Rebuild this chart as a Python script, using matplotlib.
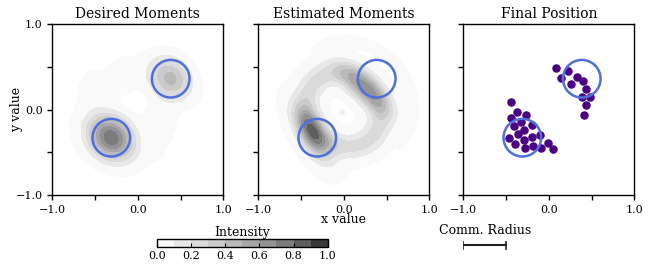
import numpy as np
import matplotlib
matplotlib.use("Agg")
import matplotlib.pyplot as plt
from matplotlib.patches import Circle
from matplotlib.colors import ListedColormap

plt.rcParams['font.family'] = ['DejaVu Serif']

# desired target locations and communication radius
target_x = [-0.31, 0.385]
target_y = [-0.33, 0.36]
target_r = 0.22
comm_radius = 0.5

# desired density: gaussian blobs (x, y, sx, sy, angle deg, weight)
desired_x = [-0.31, 0.385, 0.27, -0.05, -0.50]
desired_y = [-0.33, 0.36, -0.10, 0.42, 0.05]
desired_sx = [0.19, 0.17, 0.08, 0.30, 0.10]
desired_sy = [0.155, 0.135, 0.22, 0.10, 0.25]
desired_ang = [-40, -50, 0, 10, 0]
desired_w = [0.80, 0.46, 0.07, 0.05, 0.04]

# estimated density: lobes on top of a ring
est_x = [-0.37, 0.25]
est_y = [-0.28, 0.23]
est_sx = [0.23, 0.25]
est_sy = [0.10, 0.10]
est_ang = [-60, -42]
est_w = [0.66, 0.45]
ring_a, ring_b, ring_ang, ring_s, ring_w = 0.40, 0.46, 45, 0.10, 0.25
arc_r, arc_s, arc_theta, arc_span, arc_w = 0.80, 0.04, 40, 55, 0.05

# final robot positions
robot_x = [-0.442, -0.372, -0.267, -0.446, -0.325, -0.407, -0.196, -0.287,
           -0.364, -0.469, -0.294, -0.200, -0.103, -0.392, -0.278, -0.185,
           -0.095, -0.013, 0.053,
           0.084, 0.225, 0.143, 0.326, 0.263, 0.396, 0.431, 0.385, 0.485,
           0.435, 0.415]
robot_y = [0.088, -0.026, -0.064, -0.100, -0.146, -0.189, -0.181, -0.244,
           -0.283, -0.333, -0.357, -0.326, -0.303, -0.400, -0.455, -0.423,
           -0.455, -0.392, -0.462,
           0.485, 0.450, 0.372, 0.384, 0.298, 0.337, 0.243, 0.146, 0.146,
           0.056, -0.064]

levels = np.linspace(0, 1, 11)
band_colors = ['#f9f9f9', '#e8e8e8', '#dadada', '#cbcbcb', '#bababa',
               '#a7a7a7', '#939393', '#7c7c7c', '#5e5e5e', '#383838']
cmap = ListedColormap(band_colors)
circ_col = '#4f6fdc'


def blobs(X, Y, xs, ys, sxs, sys_, angs, ws):
    Z = np.zeros_like(X)
    for x0, y0, sx, sy, a, w in zip(xs, ys, sxs, sys_, angs, ws):
        t = np.deg2rad(a)
        u = (X - x0) * np.cos(t) + (Y - y0) * np.sin(t)
        v = -(X - x0) * np.sin(t) + (Y - y0) * np.cos(t)
        Z += w * np.exp(-0.5 * ((u / sx) ** 2 + (v / sy) ** 2))
    return Z


n = 256
g = np.linspace(-1.6, 1.6, n, endpoint=False)
X, Y = np.meshgrid(g, g)

# desired: blobs with a hard low-pass, which leaves the faint ripples
Zd = blobs(X, Y, desired_x, desired_y, desired_sx, desired_sy, desired_ang, desired_w)
F = np.fft.fft2(Zd)
k = np.fft.fftfreq(n, d=g[1] - g[0])
KX, KY = np.meshgrid(k, k)
F[np.hypot(KX, KY) > 2.4] = 0
Zd = np.real(np.fft.ifft2(F))
Zd = Zd / Zd.max() * 0.79 - 0.016

# estimated
t = np.deg2rad(ring_ang)
U = X * np.cos(t) + Y * np.sin(t)
V = -X * np.sin(t) + Y * np.cos(t)
re = np.hypot(U / ring_a, V / ring_b)
Ze = ring_w * np.exp(-0.5 * ((re - 1) * 0.43 / ring_s) ** 2)
Ze += blobs(X, Y, est_x, est_y, est_sx, est_sy, est_ang, est_w)
Ze += 0.15 * np.exp(-0.5 * ((X + 0.02) ** 2 + (Y + 0.03) ** 2) / 0.018 ** 2)
R = np.hypot(X, Y)
TH = np.degrees(np.arctan2(Y, X))
Ze += arc_w * np.exp(-0.5 * ((R - arc_r) / arc_s) ** 2) * \
    np.exp(-0.5 * ((TH - arc_theta) / arc_span) ** 4)
Ze = Ze / Ze.max() * 0.88 - 0.01

fig = plt.figure(figsize=(6.66, 2.68), dpi=100)
w, h = 0.2568, 0.638
ax1 = fig.add_axes([0.0785, 0.2724, w, h])
ax2 = fig.add_axes([0.3878, 0.2724, w, h])
ax3 = fig.add_axes([0.6957, 0.2724, w, h])

cs = ax1.contourf(X, Y, Zd, levels=levels, cmap=cmap)
ax2.contourf(X, Y, Ze, levels=levels, cmap=cmap)
ax3.scatter(robot_x, robot_y, s=26, color='#4b0082', zorder=3)

for ax in (ax1, ax2, ax3):
    for cx, cy in zip(target_x, target_y):
        ax.add_patch(Circle((cx, cy), target_r, fill=False, ec=circ_col,
                            lw=1.8, zorder=4))
    ax.set_xlim(-1, 1)
    ax.set_ylim(-1, 1)
    ax.set_xticks([-1, -0.5, 0, 0.5, 1])
    ax.set_yticks([-1, -0.5, 0, 0.5, 1])
    ax.set_xticklabels(['\u22121.0', '', '0.0', '', '1.0'])
    ax.set_yticklabels([])
    ax.tick_params(labelsize=8, length=3.5, width=1, direction='out')
    for s in ax.spines.values():
        s.set_linewidth(1)

ax1.set_yticklabels(['\u22121.0', '', '0.0', '', '1.0'])
ax1.set_ylabel('y value', fontsize=9)
ax1.yaxis.set_label_coords(-0.17, 0.5)
ax2.set_xlabel('x value', fontsize=9, labelpad=-1)

ax1.set_title('Desired Moments', fontsize=10, pad=4)
ax2.set_title('Estimated Moments', fontsize=10, pad=4)
ax3.set_title('Final Position', fontsize=10, pad=4)

cax = fig.add_axes([0.2353, 0.0772, 0.2568, 0.03])
cb = fig.colorbar(cs, cax=cax, orientation='horizontal')
cb.set_ticks([0, 0.2, 0.4, 0.6, 0.8, 1.0])
cb.ax.tick_params(labelsize=8, length=3, direction='in', pad=3)
cb.outline.set_linewidth(1)
cb.ax.set_title('Intensity', fontsize=9, pad=1)

# scale bar for the communication radius, same x scale as the panels
sax = fig.add_axes([0.6957, 0.06, w, 0.05])
sax.set_xlim(-1, 1)
sax.set_ylim(-1, 1)
sax.axis('off')
sax.plot([-1, -1 + comm_radius], [0, 0], color='#222222', lw=1.5)
sax.plot([-1, -1], [-0.5, 0.5], color='#222222', lw=1.2)
sax.plot([-1 + comm_radius, -1 + comm_radius], [-0.5, 0.5], color='#222222', lw=1.2)
sax.text(-1 + comm_radius / 2, 1.3, 'Comm. Radius', ha='center', va='bottom',
         fontsize=9)

fig.savefig('out.png', dpi=100)
